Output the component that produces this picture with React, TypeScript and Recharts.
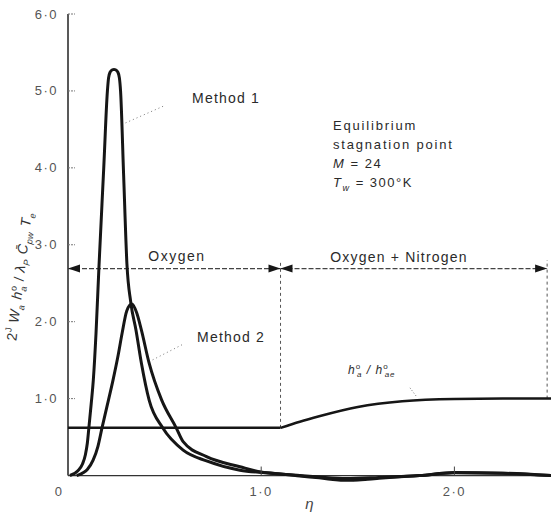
import React from 'react';
import { LineChart, Line, XAxis, YAxis, ReferenceLine, ReferenceDot } from 'recharts';

// eta, value pairs
const method1: [number, number][] = [
  [0.01, 0], [0.05, 0.06], [0.075, 0.15], [0.09, 0.27], [0.1, 0.42], [0.108, 0.62],
  [0.12, 0.93], [0.131, 1.24], [0.145, 1.85], [0.16, 2.7], [0.185, 4.0], [0.204, 5.0],
  [0.21, 5.17], [0.218, 5.245], [0.23, 5.275], [0.238, 5.28], [0.246, 5.275], [0.258, 5.245],
  [0.266, 5.17], [0.272, 5.0], [0.288, 3.9], [0.305, 2.75], [0.325, 2.25], [0.352, 1.89],
  [0.38, 1.46], [0.42, 0.98], [0.49, 0.62], [0.596, 0.33], [0.717, 0.19], [0.89, 0.07],
  [1.0, 0.04], [1.1, 0.02], [1.2, -0.005], [1.3, -0.03], [1.44, -0.065], [1.61, -0.035],
  [1.82, 0.0], [2.0, 0.035], [2.25, 0.03], [2.5, 0.0],
];

const method2: [number, number][] = [
  [0.045, 0], [0.08, 0.04], [0.1, 0.08], [0.13, 0.2], [0.155, 0.38], [0.176, 0.62],
  [0.2, 0.88], [0.233, 1.24], [0.26, 1.57], [0.28, 1.85], [0.304, 2.14], [0.33, 2.23],
  [0.355, 2.12], [0.38, 1.89], [0.42, 1.46], [0.485, 0.98], [0.56, 0.62], [0.596, 0.44],
  [0.717, 0.245], [0.89, 0.115], [1.0, 0.045], [1.1, 0.02], [1.2, 0.0], [1.3, -0.02],
  [1.44, -0.04], [1.61, -0.025], [1.82, 0.0], [2.0, 0.04], [2.25, 0.03], [2.5, 0.0],
];

const hRatioFlat: [number, number][] = [[0, 0.62], [1.1, 0.62]];
const hRatioRise: [number, number][] = [
  [1.1, 0.62], [1.2, 0.7], [1.3, 0.77], [1.5, 0.89], [1.73, 0.965], [2.0, 0.995], [2.25, 1.0], [2.5, 1.0],
];

const etaTicks = [0, 1, 2];
const valueTicks = [1, 2, 3, 4, 5, 6];
const regionEdges = [0, 1.1, 2.48];
const regionLabels = ['Oxygen', 'Oxygen + Nitrogen'];
const arrowLevel = 2.69;
const conditions = ['Equilibrium', 'stagnation point'];

const Y_MIN = -0.08;
const Y_MAX = 6;
const TOP = 14;
const X_AXIS_H = 33.3;
const H = 515;
const PLOT_H = H - TOP - X_AXIS_H;
const ZERO_OFFSET = (-Y_MIN * PLOT_H) / (Y_MAX - Y_MIN);

const FONT = '"Liberation Sans", Arial, sans-serif';
const INK = '#161616';

const toRows = (pts: [number, number][]) => pts.map(([eta, v]) => ({ eta, v }));
const fmt = (v: number) => (v === 0 ? '0' : v.toFixed(1).replace('.', '·'));

function YTick({ x, y, payload }: any) {
  return (
    <g>
      <line x1={x + 10} x2={x + 17} y1={y} y2={y} stroke="#777" strokeWidth={1} strokeDasharray="2 1" />
      <text x={x} y={y} dy={4.5} textAnchor="end" fontSize={13} letterSpacing={1.5} fill="#555" fontFamily={FONT}>
        {fmt(payload.value)}
      </text>
    </g>
  );
}

function XTick({ x, y, payload }: any) {
  const base = y - 2 - ZERO_OFFSET;
  return (
    <g>
      {payload.value !== 0 && <line x1={x} x2={x} y1={base} y2={base - 9} stroke="#444" strokeWidth={1} />}
      <text x={payload.value === 0 ? x - 9 : x} y={y} dy={12} textAnchor="middle" fontSize={13} letterSpacing={1.5} fill="#555" fontFamily={FONT}>
        {fmt(payload.value)}
      </text>
    </g>
  );
}

function YLabel() {
  return (
    <text transform="translate(24,277) rotate(-83)" textAnchor="middle" fontSize={14} fill="#333" fontFamily={FONT} letterSpacing={0.5}>
      <tspan>2</tspan>
      <tspan dy={-6} fontSize={9}>J</tspan>
      <tspan dy={6} fontStyle="italic"> W</tspan>
      <tspan dy={4} fontSize={9} fontStyle="italic">a</tspan>
      <tspan dy={-4} fontStyle="italic"> h</tspan>
      <tspan dy={-6} fontSize={9}>o</tspan>
      <tspan dx={-5} dy={10} fontSize={9} fontStyle="italic">a</tspan>
      <tspan dy={-4}> / </tspan>
      <tspan fontStyle="italic">λ</tspan>
      <tspan dy={4} fontSize={9} fontStyle="italic">P</tspan>
      <tspan dy={-4} fontStyle="italic"> {'C\u0304'}</tspan>
      <tspan dy={4} fontSize={9} fontStyle="italic">pw</tspan>
      <tspan dy={-4} fontStyle="italic"> T</tspan>
      <tspan dy={4} fontSize={9} fontStyle="italic">e</tspan>
    </text>
  );
}

function EtaLabel({ viewBox }: any) {
  const vb = viewBox || { x: 68, y: 481.7, width: 483 };
  return (
    <text x={vb.x + vb.width * 0.5} y={vb.y + 27} textAnchor="middle" fontSize={15} fontStyle="italic" fill="#444" fontFamily={FONT}>
      η
    </text>
  );
}

function arrowHead(tx: number, ty: number, dir: number) {
  const len = 12;
  const half = 4;
  return <polygon points={`${tx},${ty} ${tx - dir * len},${ty - half} ${tx - dir * len},${ty + half}`} fill={INK} />;
}

function SpanArrow(p: any) {
  const { x1, y1, x2, y2 } = p;
  return (
    <g>
      <line x1={x1} y1={y1} x2={x2} y2={y2} stroke="#444" strokeWidth={1.2} strokeDasharray="5 2" />
      {arrowHead(Math.min(x1, x2), y1, -1)}
      {arrowHead(Math.max(x1, x2), y1, 1)}
    </g>
  );
}

const textAt = (content: React.ReactNode, anchor: string = 'start', size = 14, spacing = 1.2) => (p: any) => (
  <text x={p.cx} y={p.cy} textAnchor={anchor} fontSize={size} letterSpacing={spacing} fill="#2a2a2a" fontFamily={FONT}>
    {content}
  </text>
);

export default function App() {
  const lineCommon = {
    type: 'monotone' as const,
    dataKey: 'v',
    stroke: INK,
    strokeWidth: 3,
    dot: false,
    activeDot: false,
    isAnimationActive: false,
  };
  return (
    <div style={{ position: 'absolute', left: 0, top: 0, width: 555, height: 515, background: '#fff' }}>
      <LineChart width={555} height={H} margin={{ top: TOP, right: 4, bottom: 0, left: 0 }}>
        <XAxis
          type="number"
          dataKey="eta"
          domain={[0, 2.5]}
          ticks={etaTicks}
          allowDataOverflow
          height={X_AXIS_H}
          axisLine={false}
          tickLine={false}
          tickSize={0}
          tickMargin={2}
          tick={XTick}
          label={<EtaLabel />}
        />
        <YAxis
          type="number"
          domain={[Y_MIN, Y_MAX]}
          ticks={valueTicks}
          allowDataOverflow
          width={68}
          axisLine={false}
          tickLine={false}
          tickSize={0}
          tickMargin={10}
          tick={YTick}
          label={<YLabel />}
        />
        <ReferenceLine segment={[{ x: 0, y: 0 }, { x: 0, y: Y_MAX }]} stroke="#222" strokeWidth={1.5} />
        <ReferenceLine segment={[{ x: 0, y: 0 }, { x: 2.5, y: 0 }]} stroke="#333" strokeWidth={1.2} />

        {/* region boundaries and spans */}
        <ReferenceLine segment={[{ x: regionEdges[1], y: 0.62 }, { x: regionEdges[1], y: 2.8 }]} stroke="#555" strokeWidth={1} strokeDasharray="3 3" />
        <ReferenceLine segment={[{ x: regionEdges[2], y: 1.0 }, { x: regionEdges[2], y: 2.8 }]} stroke="#555" strokeWidth={1} strokeDasharray="3 3" />
        <ReferenceLine segment={[{ x: regionEdges[0], y: arrowLevel }, { x: regionEdges[1], y: arrowLevel }]} shape={SpanArrow} />
        <ReferenceLine segment={[{ x: regionEdges[1], y: arrowLevel }, { x: regionEdges[2], y: arrowLevel }]} shape={SpanArrow} />
        <ReferenceDot x={0.564} y={2.79} r={1} shape={textAt(regionLabels[0], 'middle', 14, 1.5)} />
        <ReferenceDot x={1.713} y={2.78} r={1} shape={textAt(regionLabels[1], 'middle', 14, 1.2)} />

        {/* leaders */}
        <ReferenceLine segment={[{ x: 0.492, y: 4.8 }, { x: 0.285, y: 4.57 }]} stroke="#777" strokeWidth={1} strokeDasharray="1 3" />
        <ReferenceLine segment={[{ x: 0.59, y: 1.7 }, { x: 0.435, y: 1.5 }]} stroke="#777" strokeWidth={1} strokeDasharray="1 3" />
        <ReferenceLine segment={[{ x: 1.77, y: 1.14 }, { x: 1.806, y: 1.02 }]} stroke="#777" strokeWidth={1} strokeDasharray="1 2" />

        <Line {...lineCommon} data={toRows(hRatioFlat)} type="linear" strokeWidth={2.5} />
        <Line {...lineCommon} data={toRows(hRatioRise)} strokeWidth={2.5} />
        <Line {...lineCommon} data={toRows(method1)} />
        <Line {...lineCommon} data={toRows(method2)} />

        <ReferenceDot x={0.642} y={4.84} r={1} shape={textAt('Method 1')} />
        <ReferenceDot x={0.668} y={1.735} r={1} shape={textAt('Method 2')} />
        <ReferenceDot x={1.372} y={4.49} r={1} shape={textAt(conditions[0], 'start', 13, 1.8)} />
        <ReferenceDot x={1.372} y={4.245} r={1} shape={textAt(conditions[1], 'start', 13, 1.8)} />
        <ReferenceDot
          x={1.372}
          y={4.0}
          r={1}
          shape={textAt(<><tspan fontStyle="italic">M</tspan><tspan> = 24</tspan></>, 'start', 13, 1.5)}
        />
        <ReferenceDot
          x={1.372}
          y={3.75}
          r={1}
          shape={textAt(
            <>
              <tspan fontStyle="italic">T</tspan>
              <tspan dy={4} fontSize={9} fontStyle="italic">w</tspan>
              <tspan dy={-4}> = 300°K</tspan>
            </>,
            'start',
            13,
            1.5,
          )}
        />
        <ReferenceDot
          x={1.449}
          y={1.32}
          r={1}
          shape={textAt(
            <>
              <tspan fontStyle="italic">h</tspan>
              <tspan dy={-5} fontSize={8}>o</tspan>
              <tspan dx={-4} dy={8} fontSize={8} fontStyle="italic">a</tspan>
              <tspan dy={-3} fontStyle="italic"> / h</tspan>
              <tspan dy={-5} fontSize={8}>o</tspan>
              <tspan dx={-4} dy={8} fontSize={8} fontStyle="italic">ae</tspan>
            </>,
            'start',
            12,
            1,
          )}
        />
      </LineChart>
    </div>
  );
}
